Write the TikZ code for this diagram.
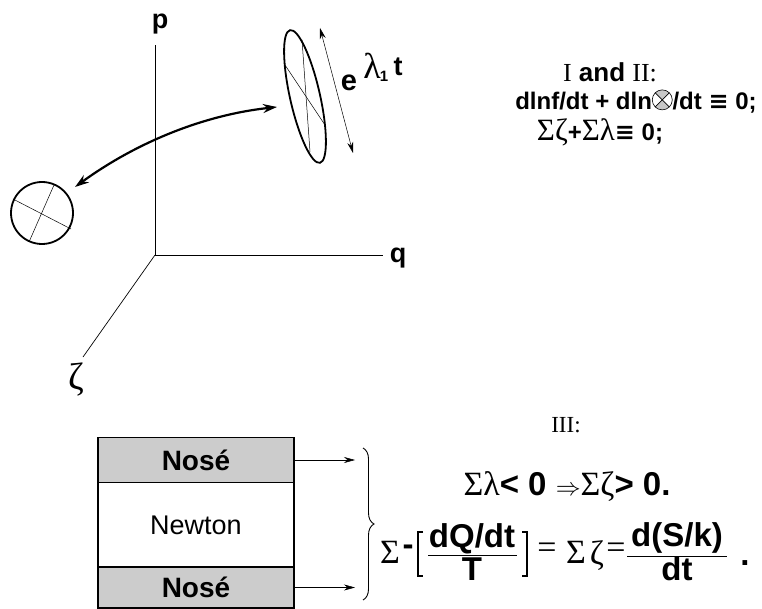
\documentclass[tikz,border=0pt]{standalone}
\usepackage{fontspec}
\setmainfont{Liberation Sans}
\newfontfamily\tms{Liberation Serif}
\newfontfamily\djv{DejaVu Sans}
\usetikzlibrary{arrows.meta,decorations.pathreplacing,shapes.geometric}
\newcommand\otsym{\tikz[baseline={(0,-9.5pt)},x=1pt,y=1pt,line width=0.6pt]{%
  \fill[black!22] (0,0) -- (45:10) arc (45:135:10) -- cycle;
  \fill[black!22] (0,0) -- (225:10) arc (225:315:10) -- cycle;
  \draw (0,0) circle (10);
  \draw (45:10) -- (225:10);
  \draw (135:10) -- (315:10);}}
\begin{document}
\begin{tikzpicture}[x=1pt,y=-1pt,
  axis/.style={line width=0.7pt},
  fine/.style={line width=0.5pt},
  heavy/.style={line width=1.8pt},
  txt/.style={font=\fontsize{24}{28}\selectfont\bfseries, inner sep=0pt},
  btxt/.style={font=\fontsize{33}{36}\selectfont\bfseries, inner sep=0pt},
  gk/.style={font=\fontsize{34}{38}\selectfont\tms, inner sep=0pt},
  rom/.style={font=\fontsize{23}{28}\selectfont\tms, inner sep=0pt},
  boxbase/.style={draw, line width=1.2pt, minimum width=196pt, inner sep=0pt, font=\fontsize{27}{30}\selectfont},
  nosebox/.style={boxbase, fill=black!20, font=\fontsize{28}{30}\selectfont\bfseries},
  tip/.style={-{Stealth[length=11pt,width=6pt]}},
]
\useasboundingbox (0,0) rectangle (762,609);

% axes
\coordinate (O) at (155,255);
\coordinate (ptop) at (155,45);
\coordinate (qend) at (383,255);
\coordinate (zend) at (83,357);
\draw[axis] (O) -- (ptop);
\draw[axis] (O) -- (qend);
\draw[axis] (O) -- (zend);
\node[font=\fontsize{27}{30}\selectfont\bfseries, inner sep=0pt] (plab) at (160,24) {p};
\node[font=\fontsize{27}{30}\selectfont\bfseries, inner sep=0pt] (qlab) at (398,258) {q};
\node[font=\fontsize{38}{40}\selectfont\tms, inner sep=0pt] (zlab) at (76,380) {ζ};

% circle
\node[circle, draw, heavy, minimum size=62pt, inner sep=0pt] (ball) at (42,213) {};
\draw[fine] (13,199) -- (71,229);
\draw[fine] (29,242) -- (54,185);

% ellipse
\node[ellipse, draw, heavy, minimum width=30pt, minimum height=136pt, inner sep=0pt, rotate=12.7] (ell) at (305,96.5) {};
\draw[fine] (302,40) -- (310,152);
\draw[fine] (285,65) -- (325,125);

% thin double arrow
\coordinate (ta) at (320,28);
\coordinate (tb) at (353,153);
\draw[fine, {Stealth[length=11pt,width=6pt]}-{Stealth[length=11pt,width=6pt]}] (ta) -- (tb);
\node[font=\fontsize{29}{30}\selectfont\bfseries, inner sep=0pt] (elab) at (349,83) {e};
\node[font=\fontsize{36}{38}\selectfont\tms, inner sep=0pt] (lam) at (372,66) {λ};
\node[font=\fontsize{15}{16}\selectfont\bfseries, inner sep=0pt] (one) at (384,76) {1};
\node[font=\fontsize{27}{30}\selectfont\bfseries, inner sep=0pt] (tlab) at (398,67) {t};

% thick curved arrow
\coordinate (ca) at (75,187);
\coordinate (cb) at (277,107);
\draw[line width=2.2pt, {Stealth[length=14pt,width=9pt]}-{Stealth[length=14pt,width=9pt]}] (ca) .. controls (137,142) and (204,115) .. (cb);

% right text, top
\node[font=\fontsize{26}{28}\selectfont\bfseries, inner sep=0pt] (l1) at (610,72) {{\tms\mdseries I} and {\tms\mdseries II:}};
\node[txt] (l2) at (636,101) {dlnf/dt + dln\otsym/dt {\djv ≡} 0;};
\node[txt] (l3) at (600,132) {{\tms\mdseries\fontsize{31}{32}\selectfont Σζ}+{\tms\mdseries\fontsize{31}{32}\selectfont Σλ}{\djv ≡} 0;};

% boxes
\node[nosebox, minimum height=45pt] (nose1) at (196,460) {Nosé};
\node[boxbase, minimum height=85pt] (newton) at (196,525) {Newton};
\node[nosebox, minimum height=41pt] (nose2) at (196,587.5) {Nosé};
\coordinate (a1) at (355,460);
\coordinate (a2) at (355,587.5);
\draw[fine, tip] (nose1.east) -- (a1);
\draw[fine, tip] (nose2.east) -- (a2);

% brace
\coordinate (br1) at (363,448);
\coordinate (br2) at (363,600);
\draw[line width=0.9pt, decorate, decoration={brace, amplitude=11pt}] (br1) -- (br2);

% bottom right text
\node[rom] (III) at (566,425) {III:};
\node[btxt] (l4) at (567,487) {{\tms\mdseries\fontsize{34}{38}\selectfont Σλ}< 0 {\mdseries$\Rightarrow$}{\tms\mdseries\fontsize{34}{38}\selectfont Σζ}> 0.};

\node[gk] (s1) at (390,552) {Σ};
\node[btxt] (minus) at (408,550) {-};
\draw[line width=2pt] (423,532) -- (418,532) -- (418,576) -- (423,576);
\node[btxt] (num1) at (472,539) {dQ/dt};
\draw[line width=1pt] (428,555) -- (517,555);
\node[btxt] (den1) at (472,569) {T};
\draw[line width=2pt] (522,532) -- (527,532) -- (527,576) -- (522,576);
\node[gk] (eq1) at (547,551) {=};
\node[gk] (s2) at (576,552) {Σ};
\node[gk] (z2) at (597,556) {ζ};
\node[gk] (eq2) at (616,551) {=};
\node[btxt] (num2) at (677,538) {d(S/k)};
\draw[line width=1pt] (627,556) -- (727,556);
\node[btxt] (den2) at (677,569) {dt};
\node[btxt] (dot) at (745,563) {.};
\end{tikzpicture}
\end{document}
